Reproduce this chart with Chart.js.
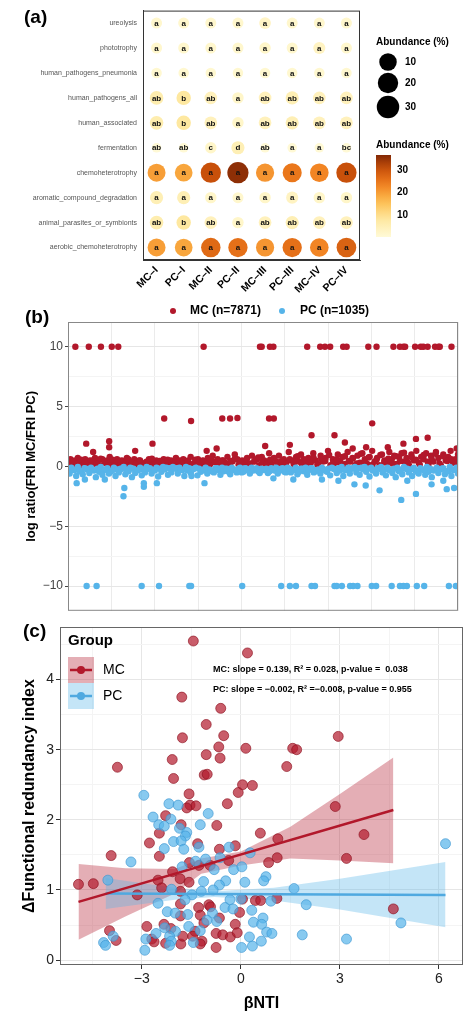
<!DOCTYPE html>
<html><head><meta charset="utf-8">
<script src="https://cdn.jsdelivr.net/npm/chart.js@4"></script>
<style>
body{margin:0;background:#fff;width:474px;height:1021px;position:relative;overflow:hidden;font-family:"Liberation Sans",Arial,sans-serif}
.cv{position:absolute;left:0}
.tag{position:absolute;font-weight:bold;font-size:19px;color:#000}
</style></head><body>
<div class="cv" style="top:0;width:474px;height:300px"><canvas id="ca"></canvas></div>
<div class="cv" style="top:300px;width:474px;height:320px"><canvas id="cb"></canvas></div>
<div class="cv" style="top:615px;width:474px;height:406px"><canvas id="cc"></canvas></div>
<div class="tag" style="left:24px;top:6px">(a)</div>
<div class="tag" style="left:25px;top:306px">(b)</div>
<div class="tag" style="left:23px;top:620px">(c)</div>
<script>
// ---- (a) datos
const groups = ["MC-I", "PC-I", "MC-II", "PC-II", "MC-III", "PC-III", "MC-IV", "PC-IV"];
const groupLabels = ["MC\u2013I", "PC\u2013I", "MC\u2013II", "PC\u2013II", "MC\u2013III", "PC\u2013III", "MC\u2013IV", "PC\u2013IV"];
const functions = ["ureolysis", "phototrophy", "human_pathogens_pneumonia", "human_pathogens_all", "human_associated",
  "fermentation", "chemoheterotrophy", "aromatic_compound_degradation", "animal_parasites_or_symbionts", "aerobic_chemoheterotrophy"];
const abundance = [
  [1.5, 1.5, 1.5, 1.5, 2.5, 1.5, 1.5, 1.5],
  [1.5, 1.5, 1.5, 1.5, 2, 1.5, 3, 1.5],
  [1, 1, 1, 1, 1, 1, 1, 1],
  [6, 8, 4, 2, 4, 5, 4, 4],
  [6, 8, 4, 2, 4, 5, 4, 4],
  [0.3, 0.3, 2, 5, 0.3, 0.3, 0.3, 0.3],
  [20, 19, 31, 36, 21, 25, 23, 31],
  [5, 5, 2, 1.5, 2, 3, 2, 2],
  [6, 8, 4, 2, 4, 5, 4, 4],
  [20, 19, 27, 26, 21, 26, 23, 28],
];
const letters = [
  ["a", "a", "a", "a", "a", "a", "a", "a"],
  ["a", "a", "a", "a", "a", "a", "a", "a"],
  ["a", "a", "a", "a", "a", "a", "a", "a"],
  ["ab", "b", "ab", "a", "ab", "ab", "ab", "ab"],
  ["ab", "b", "ab", "a", "ab", "ab", "ab", "ab"],
  ["ab", "ab", "c", "d", "ab", "a", "a", "bc"],
  ["a", "a", "a", "a", "a", "a", "a", "a"],
  ["a", "a", "a", "a", "a", "a", "a", "a"],
  ["ab", "b", "ab", "a", "ab", "ab", "ab", "ab"],
  ["a", "a", "a", "a", "a", "a", "a", "a"],
];
const sizeLegend = [10, 20, 30];
const colorLegend = [10, 20, 30];

// ---- (b) datos
const mcBand = [0.3,0.6,0.2,0.5,0.7,0.1,0.4,0.6,0.3,0.5,0.2,0.7,0.4,0.1,0.6,0.3,0.5,0.8,0.2,0.4,
0.6,0.1,0.5,0.3,0.7,0.2,0.4,0.6,0.1,0.5,0.3,0.2,0.4,0.6,0.1,0.3,0.5,0.2,0.4,0.6,
0.1,0.3,0.5,0.2,0.7,0.4,0.1,0.6,0.3,0.5,0.8,0.2,0.4,0.6,0.1,0.5,0.3,0.7,0.2,0.9,
0.4,0.6,0.1,0.5,0.3,0.8,0.2,0.4,1.0,0.6,0.1,0.5,0.3,0.7,0.2,0.9,0.4,0.6,0.1,0.8,
0.5,0.3,1.1,0.2,0.7,0.4,0.9,0.1,0.6,0.3,1.2,0.5,0.2,0.8,0.4,1.0,0.6,0.1,0.7,0.3,
1.1,0.5,0.2,0.9,0.4,0.7,1.3,0.1,0.6,0.3,1.0,0.5,0.8,0.2,1.2,0.4,0.7,0.1,0.9,0.3,
1.1,0.6,0.2,0.8,1.3,0.4,0.7,0.1,1.0,0.5,0.3,1.2,0.6,0.9,0.2,0.8,1.1,0.4,0.7,0.1,
1.0,0.5,1.3,0.3,0.8,0.6,1.1,0.2,0.9,0.4,1.2,0.7,0.1,1.0,0.5,0.8,1.3,0.3,0.6,1.0];
const mcBand2 = [0.15,0.45,0.25,0.55,0.35,0.05,0.5,0.2,0.65,0.4,0.1,0.55,0.3,0.45,0.15,0.6,0.35,0.25,0.5,0.1,
0.4,0.65,0.2,0.45,0.3,0.55,0.1,0.35,0.5,0.25,0.4,0.15,0.55,0.3,0.45,0.2,0.6,0.35,0.1,0.5,
0.25,0.45,0.6,0.15,0.35,0.55,0.25,0.45,0.75,0.35,0.15,0.55,0.65,0.3,0.45,0.2,0.6,0.4,0.85,0.25,
0.55,0.35,0.75,0.15,0.65,0.45,0.95,0.3,0.55,0.2,0.85,0.45,0.65,0.25,1.05,0.4,0.75,0.15,0.55,0.95,
0.35,0.65,0.25,0.85,0.45,1.15,0.3,0.75,0.55,0.15,0.95,0.4,0.65,1.05,0.25,0.85,0.45,0.6,0.35,1.15];
const pcBand = [-0.2,-0.1,-0.3,-0.05,-0.4,-0.15,-0.25,-0.1,-0.35,-0.2,-0.05,-0.3,-0.15,-0.45,-0.1,-0.25,-0.2,-0.05,-0.3,-0.1,
-0.2,-0.35,-0.1,-0.25,-0.05,-0.15,-0.3,-0.1,-0.2,-0.05,-0.1,-0.15,-0.05,-0.2,-0.1,-0.3,-0.05,-0.15,-0.25,-0.1,
-0.2,-0.35,-0.1,-0.25,-0.4,-0.15,-0.3,-0.1,-0.2,-0.45,-0.1,-0.3,-0.2,-0.5,-0.15,-0.35,-0.1,-0.25,-0.4,-0.2,
-0.3,-0.55,-0.15,-0.35,-0.6,-0.2,-0.45,-0.1,-0.5,-0.3,-0.65,-0.2,-0.4,-0.7,-0.15,-0.5,-0.3,-0.6,-0.25,-0.45,
-0.75,-0.2,-0.55,-0.35,-0.8,-0.3,-0.6,-0.15,-0.5,-0.7,-0.25,-0.45,-0.85,-0.35,-0.6,-0.2,-0.5,-0.75,-0.3,-0.55,
-0.9,-0.4,-0.65,-0.2,-0.5,-0.8,-0.35,-0.6,-0.25,-0.7,-0.45,-0.9,-0.3,-0.55,-0.2,-0.65,-0.4,-0.8,-0.3,-0.6];
const mcTopX = [0.17,0.48,0.76,1.01,1.16,3.13,4.43,4.47,4.66,4.74,5.52,5.82,5.93,6.05,6.35,6.43,6.93,7.12,7.51,7.66,7.74,7.78,8.01,8.14,8.20,8.30,8.47,8.55,8.58,8.85];
const pcBottomX = [0.43,0.66,1.70,2.10,2.80,2.84,4.02,4.92,5.12,5.26,5.62,5.70,6.15,6.20,6.32,6.51,6.58,6.68,7.01,7.11,7.47,7.66,7.74,7.82,8.05,8.22,8.79,8.95];
const mcOutX = [2.22,2.84,3.56,3.74,3.91,4.64,4.75,7.02,0.42,0.95,0.95,1.95,5.62,6.15,6.39,8.03,8.30,7.74,8.97,5.12,6.57,1.55,3.43,3.2,4.55,7.38,0.58,6.88];
const mcOutY = [4.0,3.8,4.0,4.0,4.05,4.0,4.0,3.6,1.9,2.1,1.6,1.9,2.6,2.6,2.0,2.3,2.4,1.9,1.5,1.8,1.5,1.3,1.5,1.3,1.7,1.6,1.2,1.6];
const pcOutX = [0.2,0.39,0.85,1.28,1.3,1.75,1.75,2.05,3.15,7.19,7.69,8.03,8.74,8.91,8.39,6.87,6.61,5.86,6.24,5.2,4.74,2.85,8.66,7.83];
const pcOutY = [-1.4,-1.1,-1.1,-2.5,-1.8,-1.7,-1.4,-1.4,-1.4,-2.0,-2.8,-2.3,-1.9,-1.8,-1.5,-1.6,-1.5,-1.1,-1.2,-1.1,-1.0,-0.8,-1.2,-1.2];

// ---- (c) datos
const mcX = [-1.44,0.2,-1.79,-0.61,-1.05,-0.52,-1.77,2.95,0.15,-0.67,1.57,1.69,-3.74,1.39,-2.08,-1.05,-0.63,-2.04,-1.11,-1.02,0.05,0.35,-0.08,-1.57,-0.41,-1.54,-1.36,-1.64,2.86,-2.28,-1.81,-0.73,-2.47,0.59,3.73,-2.77,1.12,-1.31,-0.65,-0.17,-3.93,-2.47,1.1,3.2,-0.37,-1.56,-1.27,-0.93,0.84,-2.07,-1.84,-2.51,-1.57,-4.92,-4.47,-3.14,-2.4,-1.83,0.05,0.44,0.6,1.09,-1.83,-1.28,-0.97,-0.92,4.62,-1.23,-1.83,-0.04,-0.65,-1.12,-2.85,-2.33,-0.17,-3.98,-2.12,-1.39,-0.75,-0.55,-0.32,-2.7,-3.78,-2.63,-2.28,-1.82,-1.18,-1.23,-0.75,-1.46,-0.11,-1.76];
const mcY = [4.55,4.38,3.75,3.59,3.36,3.2,3.17,3.19,3.02,3.04,3.02,3.0,2.75,2.76,2.86,2.93,2.88,2.59,2.64,2.65,2.5,2.49,2.39,2.37,2.23,2.21,2.2,2.17,2.19,2.06,1.93,1.92,1.81,1.81,1.79,1.67,1.73,1.66,1.58,1.63,1.49,1.48,1.46,1.45,1.42,1.39,1.35,1.35,1.39,1.26,1.16,1.14,1.11,1.08,1.09,0.93,1.03,0.98,0.87,0.85,0.85,0.88,0.8,0.75,0.79,0.76,0.73,0.64,0.63,0.68,0.6,0.53,0.48,0.51,0.51,0.42,0.45,0.41,0.38,0.36,0.33,0.3,0.28,0.26,0.24,0.23,0.27,0.23,0.18,0.34,0.39,0.34];
const pcX = [-2.94,-2.18,-1.9,-0.99,-2.66,-2.12,-2.49,-2.32,-1.23,-1.86,-1.64,-1.68,-2.04,-1.81,-2.32,-1.73,-1.27,-0.36,-3.33,0.28,-0.63,-1.07,-1.37,-1.78,-0.81,-0.22,0.03,0.76,0.69,0.12,1.61,-4.03,-1.13,-0.46,-0.65,-0.84,-1.2,-1.48,-2.1,-1.69,-0.33,0.0,0.91,-2.51,1.98,-2.23,-1.99,-1.61,-0.86,-0.48,-0.24,0.33,-1.03,-0.73,0.67,0.38,4.85,0.63,-2.31,-1.98,-1.58,-1.23,0.78,0.94,-2.57,-2.16,0.26,1.86,-3.87,-2.88,3.2,0.62,-2.11,-1.44,-4.16,-4.1,-2.91,-2.16,0.02,6.2,0.35];
const pcY = [2.35,2.23,2.21,2.09,2.04,2.01,1.93,1.91,1.93,1.88,1.82,1.77,1.69,1.7,1.59,1.58,1.61,1.61,1.4,1.53,1.46,1.44,1.41,1.33,1.29,1.29,1.33,1.19,1.13,1.11,1.02,1.14,1.12,1.13,1.07,1.0,0.98,0.93,1.01,0.86,0.86,0.87,0.84,0.81,0.79,0.69,0.67,0.65,0.67,0.75,0.73,0.71,0.57,0.55,0.6,0.54,0.53,0.51,0.46,0.41,0.48,0.42,0.4,0.38,0.38,0.34,0.33,0.36,0.34,0.3,0.3,0.27,0.27,0.25,0.25,0.21,0.14,0.21,0.18,1.66,0.2];
const mcFitX = [-4.92, 4.62], mcFitY = [0.83, 2.14];
const pcFitX = [-4.1, 6.2], pcFitY = [0.95, 0.93];
const mcCiX = [-4.92, -3.5, -2, -1.2, 0, 1.5, 3, 4.62];
const mcCiLo = [0.29, 0.62, 0.95, 1.23, 1.35, 1.45, 1.42, 1.38];
const mcCiHi = [1.37, 1.31, 1.3, 1.45, 1.55, 1.9, 2.37, 2.89];
const pcCiX = [-4.1, -2, -0.8, 1, 3, 6.2];
const pcCiLo = [0.73, 0.86, 0.9, 0.85, 0.72, 0.47];
const pcCiHi = [1.17, 1.03, 0.98, 1.03, 1.16, 1.4];

const FONT = "Liberation Sans";
const RED = "#B2182B", BLUE = "#56B4E9";
Chart.defaults.font.family = FONT;
Chart.defaults.animation = false;
Chart.defaults.plugins.legend.display = false;
Chart.defaults.plugins.tooltip.enabled = false;

const xy = (xs, ys) => xs.map((x, i) => ({ x, y: ys[i] }));

// escala de color tipo YlOrBr
const STOPS = [[0, [255, 250, 215]], [8, [254, 232, 160]], [16, [253, 190, 80]], [24, [240, 125, 30]], [31, [200, 80, 10]], [37, [130, 40, 5]]];
function abColor(v) {
  for (let i = 1; i < STOPS.length; i++) {
    if (v <= STOPS[i][0]) {
      const [a, ca] = STOPS[i - 1], [b, cb] = STOPS[i];
      const t = (v - a) / (b - a);
      return `rgb(${ca.map((c, k) => Math.round(c + (cb[k] - c) * t)).join(",")})`;
    }
  }
  return "rgb(130,40,5)";
}
const abRadius = (v) => 4.2 + 6.4 * Math.sqrt(v / 36);

function frame(color) {
  return {
    id: "frame",
    afterDatasetsDraw(ch) {
      const { ctx, chartArea: a } = ch;
      ctx.save(); ctx.strokeStyle = color; ctx.lineWidth = 1;
      ctx.strokeRect(a.left + 0.5, a.top + 0.5, a.right - a.left - 1, a.bottom - a.top - 1);
      ctx.restore();
    },
  };
}

// ---------- (a)
const bubbles = [];
functions.forEach((f, r) => groups.forEach((g, c) => bubbles.push({ x: g, y: f, v: abundance[r][c], lab: letters[r][c], r: abRadius(abundance[r][c]) })));

new Chart(document.getElementById("ca"), {
  type: "bubble",
  data: { datasets: [{ data: bubbles, backgroundColor: (c) => abColor(c.raw ? c.raw.v : 0), borderWidth: 0 }] },
  options: {
    responsive: true, maintainAspectRatio: false,
    layout: { padding: { top: 10, right: 114, left: 0, bottom: 0 } },
    scales: {
      x: { type: "category", labels: groups, offset: true, grid: { display: false, tickLength: 4, tickColor: "#333" }, border: { color: "#333" },
        ticks: { color: "#000", font: { size: 10.5, weight: "bold" }, maxRotation: 45, minRotation: 45, padding: 0, callback: (v, i) => groupLabels[i] },
        afterFit: (s) => { s.height = 40; } },
      y: { type: "category", labels: functions, offset: true, grid: { display: false, tickLength: 4, tickColor: "#333" }, border: { color: "#333" },
        ticks: { color: "#555", font: { size: 7 }, padding: 2 },
        afterFit: (s) => { s.width = 143; } },
    },
  },
  plugins: [frame("#333"), {
    id: "lettersAndLegend",
    afterDatasetsDraw(ch) {
      const ctx = ch.ctx;
      ctx.save();
      ctx.fillStyle = "#111"; ctx.font = `bold 8px ${FONT}`; ctx.textAlign = "center"; ctx.textBaseline = "middle";
      ch.getDatasetMeta(0).data.forEach((el, i) => ctx.fillText(bubbles[i].lab, el.x, el.y + 0.5));
      // leyenda de tamaño
      ctx.textAlign = "left"; ctx.fillStyle = "#000"; ctx.font = `bold 10px ${FONT}`;
      ctx.fillText("Abundance (%)", 376, 42);
      sizeLegend.forEach((v, i) => {
        const y = [62, 83, 107][i];
        ctx.beginPath(); ctx.arc(388, y, abRadius(v) + 1.2, 0, Math.PI * 2); ctx.fill();
        ctx.font = `bold 10px ${FONT}`; ctx.fillText(String(v), 405, y);
      });
      ctx.fillText("Abundance (%)", 376, 145);
      // barra de color
      const top = 155, bot = 237;
      const g = ctx.createLinearGradient(0, bot, 0, top);
      for (let k = 0; k <= 10; k++) g.addColorStop(k / 10, abColor(37 * k / 10));
      ctx.fillStyle = g; ctx.fillRect(376, top, 15, bot - top);
      ctx.fillStyle = "#000";
      colorLegend.forEach((v) => {
        const y = bot - (v / 37) * (bot - top);
        ctx.fillText(String(v), 397, y);
      });
      ctx.restore();
    },
  }],
});

// ---------- (b)
const bandX = (arr, shift) => arr.map((_, i) => ((i + shift) / (arr.length - 1)) * 9);
new Chart(document.getElementById("cb"), {
  type: "scatter",
  data: {
    datasets: [
      { data: xy(bandX(pcBand, 0), pcBand).concat(xy(bandX(pcBand, 0.5), pcBand.slice().reverse()), xy(pcBottomX, pcBottomX.map(() => -10)), xy(pcOutX, pcOutY)), backgroundColor: BLUE, borderWidth: 0, pointRadius: 3.2 },
      { data: xy(bandX(mcBand, 0), mcBand).concat(xy(bandX(mcBand2, 0.3), mcBand2), xy(mcTopX, mcTopX.map(() => 10)), xy(mcOutX, mcOutY)), backgroundColor: RED, borderWidth: 0, pointRadius: 3.2 },
    ],
  },
  options: {
    responsive: true, maintainAspectRatio: false,
    layout: { padding: { top: 22, right: 16, left: 20, bottom: 6 } },
    scales: {
      x: { min: 0, max: 9, ticks: { display: false, stepSize: 1 }, grid: { color: "#ebebeb", drawTicks: false }, border: { display: false },
        afterFit: (s) => { s.height = 0; } },
      y: { min: -12.07, max: 12.07, border: { display: false },
        afterBuildTicks: (s) => { s.ticks = [-10, -7.5, -5, -2.5, 0, 2.5, 5, 7.5, 10].map((v) => ({ value: v })); },
        grid: { color: (c) => (c.tick && c.tick.value % 5 === 0 ? "#e6e6e6" : "#f4f4f4"), tickColor: (c) => (c.tick && c.tick.value % 5 === 0 ? "#444" : "transparent"), tickLength: 3 },
        ticks: { color: "#444", font: { size: 12 }, padding: 2, callback: (v) => (v % 5 === 0 ? (v < 0 ? "\u2212" + Math.abs(v) : v) : "") },
        title: { display: true, text: "log ratio(FRI MC/FRI PC)", color: "#000", font: { size: 13, weight: "bold" }, padding: 4 },
        afterFit: (s) => { s.width = 48; } },
    },
  },
  plugins: [frame("#888"), {
    id: "legendB",
    afterDraw(ch) {
      const ctx = ch.ctx;
      ctx.save(); ctx.textBaseline = "middle"; ctx.font = `bold 12px ${FONT}`;
      ctx.fillStyle = RED; ctx.beginPath(); ctx.arc(173, 11, 3, 0, 7); ctx.fill();
      ctx.fillStyle = "#000"; ctx.fillText("MC (n=7871)", 190, 11);
      ctx.fillStyle = BLUE; ctx.beginPath(); ctx.arc(282, 11, 3, 0, 7); ctx.fill();
      ctx.fillStyle = "#000"; ctx.fillText("PC (n=1035)", 300, 11);
      ctx.restore();
    },
  }],
});

// ---------- (c)
new Chart(document.getElementById("cc"), {
  type: "scatter",
  data: {
    datasets: [
      { type: "line", data: xy(mcCiX, mcCiHi), fill: "+1", backgroundColor: "rgba(178,24,43,0.35)", borderWidth: 0, pointRadius: 0, order: 5 },
      { type: "line", data: xy(mcCiX, mcCiLo), fill: false, borderWidth: 0, pointRadius: 0, order: 5 },
      { type: "line", data: xy(pcCiX, pcCiHi), fill: "+1", backgroundColor: "rgba(86,180,233,0.35)", borderWidth: 0, pointRadius: 0, order: 4 },
      { type: "line", data: xy(pcCiX, pcCiLo), fill: false, borderWidth: 0, pointRadius: 0, order: 4 },
      { data: xy(mcX, mcY), backgroundColor: "rgba(178,24,43,0.7)", borderColor: "rgba(140,15,30,0.8)", borderWidth: 0.8, pointRadius: 5, order: 3 },
      { data: xy(pcX, pcY), backgroundColor: "rgba(86,180,233,0.7)", borderColor: "rgba(60,150,210,0.8)", borderWidth: 0.8, pointRadius: 5, order: 2 },
      { type: "line", data: xy(mcFitX, mcFitY), borderColor: RED, borderWidth: 2.5, pointRadius: 0, fill: false, order: 1 },
      { type: "line", data: xy(pcFitX, pcFitY), borderColor: "#4FA9E0", borderWidth: 2.5, pointRadius: 0, fill: false, order: 1 },
    ],
  },
  options: {
    responsive: true, maintainAspectRatio: false,
    layout: { padding: { top: 12, right: 11, left: 18, bottom: 8 } },
    scales: {
      x: { min: -5.48, max: 6.73, border: { display: false },
        afterBuildTicks: (s) => { s.ticks = [-4.5, -3, -1.5, 0, 1.5, 3, 4.5, 6].map((v) => ({ value: v })); },
        grid: { color: (c) => (c.tick && c.tick.value % 3 === 0 ? "#e6e6e6" : "#f4f4f4"), tickColor: (c) => (c.tick && c.tick.value % 3 === 0 ? "#333" : "transparent"), tickLength: 4 },
        ticks: { color: "#222", font: { size: 14 }, padding: 2, callback: (v) => (v % 3 === 0 ? (v < 0 ? "\u2212" + Math.abs(v) : v) : "") },
        title: { display: true, text: "\u03B2NTI", color: "#000", font: { size: 16, weight: "bold" }, padding: 0 },
        afterFit: (s) => { s.height = 48; } },
      y: { min: -0.07, max: 4.75, border: { display: false },
        afterBuildTicks: (s) => { s.ticks = [0, 0.5, 1, 1.5, 2, 2.5, 3, 3.5, 4, 4.5].map((v) => ({ value: v })); },
        grid: { color: (c) => (c.tick && c.tick.value % 1 === 0 ? "#e6e6e6" : "#f4f4f4"), tickColor: (c) => (c.tick && c.tick.value % 1 === 0 ? "#333" : "transparent"), tickLength: 4 },
        ticks: { color: "#222", font: { size: 14 }, padding: 2, callback: (v) => (v % 1 === 0 ? v : "") },
        title: { display: true, text: "\u0394Functional redundancy index", color: "#000", font: { size: 16, weight: "bold" }, padding: 2 },
        afterFit: (s) => { s.width = 42; } },
    },
  },
  plugins: [frame("#666"), {
    id: "legendC",
    afterDraw(ch) {
      const ctx = ch.ctx;
      ctx.save(); ctx.textBaseline = "middle";
      ctx.fillStyle = "#000"; ctx.font = `bold 15px ${FONT}`; ctx.fillText("Group", 68, 26);
      ctx.fillStyle = "rgba(178,24,43,0.35)"; ctx.fillRect(68, 42, 26, 26);
      ctx.fillStyle = "rgba(86,180,233,0.35)"; ctx.fillRect(68, 68, 26, 26);
      [[RED, 55, "MC"], ["#4FA9E0", 81, "PC"]].forEach(([c, y, t]) => {
        ctx.strokeStyle = c; ctx.lineWidth = 2.5; ctx.beginPath(); ctx.moveTo(70, y); ctx.lineTo(92, y); ctx.stroke();
        ctx.fillStyle = c; ctx.beginPath(); ctx.arc(81, y, 4, 0, 7); ctx.fill();
        ctx.fillStyle = "#000"; ctx.font = `14px ${FONT}`; ctx.fillText(t, 103, y);
      });
      ctx.font = `bold 9px ${FONT}`;
      ctx.fillText("MC: slope = 0.139, R\u00B2 = 0.028, p-value =  0.038", 213, 55);
      ctx.fillText("PC: slope = \u22120.002, R\u00B2 =\u22120.008, p-value = 0.955", 213, 75);
      ctx.restore();
    },
  }],
});
</script>
</body></html>
